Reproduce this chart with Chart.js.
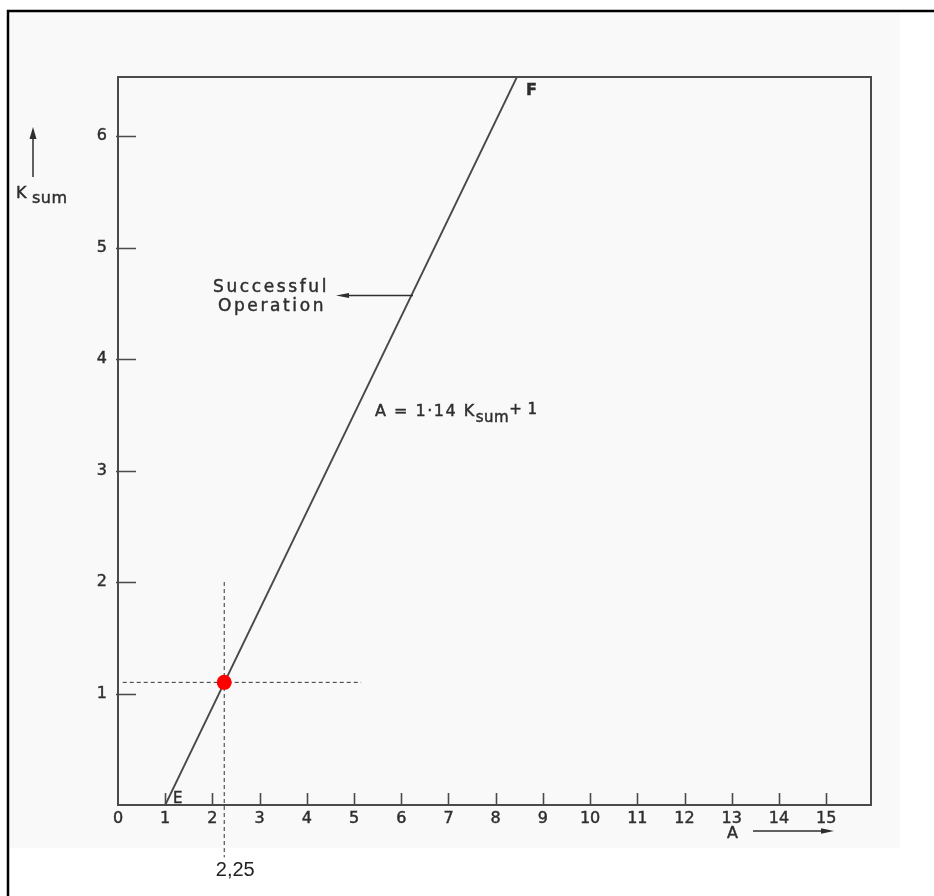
<!DOCTYPE html>
<html>
<head>
<meta charset="utf-8">
<script src="https://cdn.jsdelivr.net/npm/chart.js@4.4.1/dist/chart.umd.min.js"></script>
<style>
  html, body { margin: 0; padding: 0; background: #ffffff; }
  #wrap { width: 934px; height: 896px; }
</style>
</head>
<body>
<div id="wrap"><canvas id="c" width="934" height="896"></canvas></div>
<script>
// Axis ranges and tick labels
const aTicks = [0, 1, 2, 3, 4, 5, 6, 7, 8, 9, 10, 11, 12, 13, 14, 15];
const kTicks = [1, 2, 3, 4, 5, 6];
const aRange = [0, 15.95];
const kRange = [0, 6.53];

// Operating line E -> F  (A = 1.14 Ksum + 1)
const lineA = [1.0, 8.45];
const lineK = [0.0, 6.53];

// Working point and its guide lines
const pointA = [2.25];
const pointK = [1.1];
const guideVA = [2.25, 2.25];
const guideVK = [2.0, -0.47];
const guideHA = [0.1, 5.15];
const guideHK = [1.1, 1.1];

const pts = (xs, ys) => xs.map((x, i) => ({ x: x, y: ys[i] }));

const INK = '#2e2e2e';
const FONT = '"DejaVu Sans", sans-serif';

// Paper background, scan edge and outer frame
const paper = {
  id: 'paper',
  beforeDraw(chart) {
    const ctx = chart.ctx;
    ctx.save();
    ctx.fillStyle = '#ffffff';
    ctx.fillRect(0, 0, 934, 896);
    ctx.fillStyle = '#f9f9f9';
    ctx.fillRect(10, 12, 890, 836);
    ctx.strokeStyle = '#000000';
    ctx.lineWidth = 2.5;
    ctx.beginPath();
    ctx.moveTo(8, 896);
    ctx.lineTo(8, 11);
    ctx.lineTo(934, 11);
    ctx.stroke();
    ctx.restore();
  }
};

function arrowHead(ctx, tipX, tipY, dx, dy, len, half) {
  // dx, dy: unit direction the arrow points to
  const bx = tipX - dx * len, by = tipY - dy * len;
  ctx.beginPath();
  ctx.moveTo(tipX, tipY);
  ctx.lineTo(bx - dy * half, by + dx * half);
  ctx.lineTo(bx + dy * half, by - dx * half);
  ctx.closePath();
  ctx.fill();
}

// text with a faint outline so the lettering reads as drawn ink
function ink(ctx, text, x, y) {
  ctx.fillText(text, x, y);
  ctx.strokeText(text, x, y);
}

// Frame, inward tick marks and lettering
const lettering = {
  id: 'lettering',
  afterDraw(chart) {
    const ctx = chart.ctx;
    const xs = chart.scales.x, ys = chart.scales.y;
    const a = chart.chartArea;
    ctx.save();

    // top and right edges of the plot frame
    ctx.strokeStyle = '#4a4a4a';
    ctx.lineWidth = 2;
    ctx.beginPath();
    ctx.moveTo(a.left, a.top);
    ctx.lineTo(a.right, a.top);
    ctx.lineTo(a.right, a.bottom);
    ctx.stroke();

    // tick marks drawn inside the frame
    ctx.lineWidth = 1.6;
    ctx.beginPath();
    kTicks.forEach(v => {
      const py = Math.round(ys.getPixelForValue(v)) + 0.5;
      ctx.moveTo(a.left - 2, py);
      ctx.lineTo(a.left + 18, py);
    });
    aTicks.filter(v => v > 0).forEach(v => {
      const px = Math.round(xs.getPixelForValue(v)) + 0.5;
      ctx.moveTo(px, a.bottom);
      ctx.lineTo(px, a.bottom - 12);
    });
    ctx.stroke();

    ctx.fillStyle = INK;
    ctx.strokeStyle = INK;
    ctx.textBaseline = 'alphabetic';
    ctx.lineWidth = 0.45;

    // end labels of the line
    ctx.font = 'bold 16px ' + FONT;
    ctx.textAlign = 'left';
    ink(ctx, 'F', 526, 95);
    ctx.font = '15px ' + FONT;
    ink(ctx, 'E', 173, 803);

    // Successful Operation with leader arrow
    ctx.font = '17px ' + FONT;
    ctx.letterSpacing = '2.6px';
    ctx.textAlign = 'center';
    ink(ctx, 'Successful', 271, 292);
    ink(ctx, 'Operation', 272, 311);
    ctx.letterSpacing = '0px';

    // line equation
    ctx.textAlign = 'left';
    ctx.font = '16px ' + FONT;
    ctx.letterSpacing = '1.5px';
    let x0 = 375;
    const t1 = 'A = 1·14 K';
    ink(ctx, t1, x0, 416);
    x0 += ctx.measureText(t1).width;
    ctx.font = '15px ' + FONT;
    ctx.letterSpacing = '0.5px';
    const t2 = 'sum';
    ink(ctx, t2, x0, 422);
    x0 += ctx.measureText(t2).width;
    ctx.font = '15px ' + FONT;
    ink(ctx, '+ 1', x0, 414);
    ctx.letterSpacing = '0px';

    // Ksum axis title
    ctx.font = '16px ' + FONT;
    ink(ctx, 'K', 16, 198);
    ctx.letterSpacing = '0.5px';
    ink(ctx, 'sum', 32, 203);
    ctx.letterSpacing = '0px';

    // A axis title
    ink(ctx, 'A', 727, 838);

    // leader and axis arrows
    ctx.lineWidth = 1.3;
    ctx.beginPath();
    ctx.moveTo(413, 295.5);
    ctx.lineTo(345, 295.5);
    ctx.stroke();
    arrowHead(ctx, 336, 295.5, -1, 0, 13, 2.6);

    ctx.lineWidth = 1.5;
    ctx.beginPath();
    ctx.moveTo(33, 177);
    ctx.lineTo(33, 136);
    ctx.stroke();
    arrowHead(ctx, 33, 127, 0, -1, 12, 3.5);

    ctx.beginPath();
    ctx.moveTo(753, 831);
    ctx.lineTo(824, 831);
    ctx.stroke();
    arrowHead(ctx, 834, 831, 1, 0, 13, 2.8);

    // value of the working point under the vertical guide
    ctx.fillStyle = '#222222';
    ctx.font = '20px "Liberation Sans", sans-serif';
    ctx.textAlign = 'center';
    ctx.fillText(pointA[0].toFixed(2).replace('.', ','), xs.getPixelForValue(pointA[0]) + 11, 876);

    ctx.restore();
  }
};

new Chart(document.getElementById('c'), {
  type: 'scatter',
  data: {
    datasets: [
      {
        label: 'point',
        data: pts(pointA, pointK),
        pointRadius: 7.5,
        pointHoverRadius: 7.5,
        pointBackgroundColor: '#ff0000',
        pointBorderColor: '#ff0000',
        pointBorderWidth: 0,
        showLine: false
      },
      {
        label: 'operating line',
        data: pts(lineA, lineK),
        showLine: true,
        borderColor: '#484848',
        borderWidth: 1.8,
        pointRadius: 0,
        clip: false
      },
      {
        label: 'vertical guide',
        data: pts(guideVA, guideVK),
        showLine: true,
        borderColor: '#333333',
        borderWidth: 1,
        borderDash: [4, 3],
        pointRadius: 0,
        clip: false
      },
      {
        label: 'horizontal guide',
        data: pts(guideHA, guideHK),
        showLine: true,
        borderColor: '#333333',
        borderWidth: 1,
        borderDash: [4, 3],
        pointRadius: 0,
        clip: false
      }
    ]
  },
  options: {
    responsive: false,
    animation: false,
    devicePixelRatio: 1,
    layout: { padding: { left: 0, top: 77, right: 63, bottom: 0 } },
    plugins: {
      legend: { display: false },
      title: { display: false },
      tooltip: { enabled: false }
    },
    scales: {
      x: {
        type: 'linear',
        min: aRange[0],
        max: aRange[1],
        afterFit(s) { s.height = 91; },
        afterBuildTicks(s) { s.ticks = aTicks.map(v => ({ value: v })); },
        grid: { display: true, drawOnChartArea: false, drawTicks: false },
        border: { display: true, color: '#4a4a4a', width: 2 },
        ticks: {
          padding: 4,
          color: INK,
          textStrokeColor: INK,
          textStrokeWidth: 0.45,
          font: { family: 'DejaVu Sans', size: 16 },
          maxRotation: 0,
          autoSkip: false,
          callback: v => String(v)
        },
        title: { display: false }
      },
      y: {
        type: 'linear',
        min: kRange[0],
        max: kRange[1],
        afterFit(s) { s.width = 118; },
        afterBuildTicks(s) { s.ticks = kTicks.map(v => ({ value: v })); },
        grid: { display: true, drawOnChartArea: false, drawTicks: false },
        border: { display: true, color: '#4a4a4a', width: 2 },
        ticks: {
          padding: 11,
          color: INK,
          textStrokeColor: INK,
          textStrokeWidth: 0.45,
          font: { family: 'DejaVu Sans', size: 16 },
          autoSkip: false,
          callback: v => String(v)
        },
        title: { display: false }
      }
    }
  },
  plugins: [paper, lettering]
});
</script>
</body>
</html>
